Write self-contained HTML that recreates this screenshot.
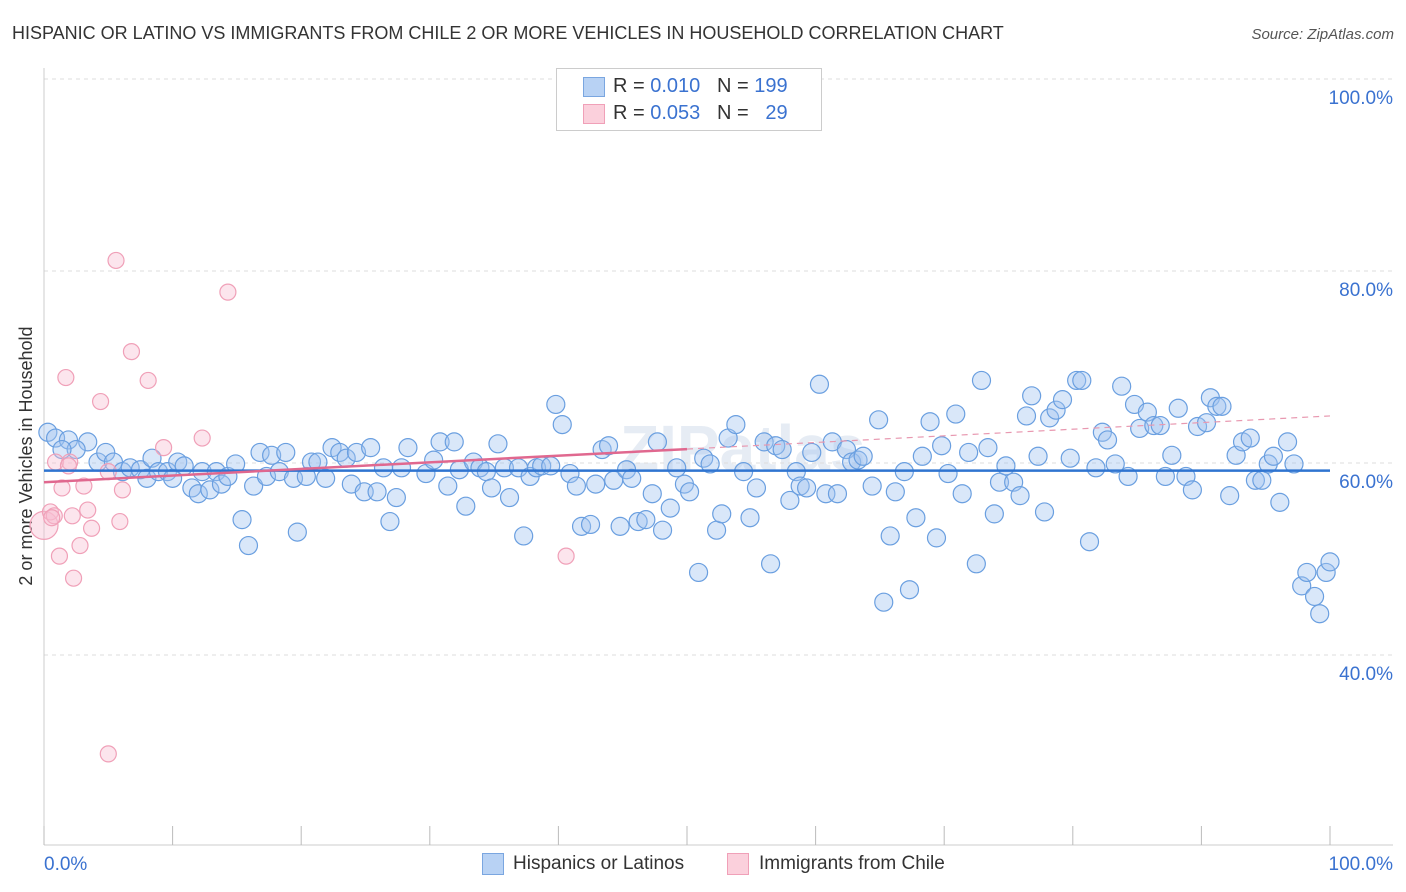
<!DOCTYPE html>
<html><head><meta charset="utf-8">
<style>
body{margin:0;background:#fff;font-family:"Liberation Sans",sans-serif;}
#wrap{position:relative;width:1406px;height:892px;overflow:hidden;}
</style></head>
<body>
<div id="wrap">
<svg id="svg" width="1406" height="892" xmlns="http://www.w3.org/2000/svg">
<text x="12" y="39" font-size="18" fill="#333">HISPANIC OR LATINO VS IMMIGRANTS FROM CHILE 2 OR MORE VEHICLES IN HOUSEHOLD CORRELATION CHART</text>
<text x="1394" y="39" font-size="15" fill="#555" text-anchor="end" font-style="italic">Source: ZipAtlas.com</text>
<text x="32" y="456" font-size="18" fill="#333" text-anchor="middle" transform="rotate(-90 32 456)">2 or more Vehicles in Household</text>
<text x="620" y="470" font-size="64" fill="#e6ecf4" font-weight="bold">ZIPatlas</text>
<g id="grid"></g>
<g id="pts"></g>
<g id="lines"></g>
</svg>
<div style="position:absolute;left:556px;top:68px;width:264px;height:61px;border:1px solid #ccc;background:#fff;font-size:20px;">
 <div style="position:absolute;left:26px;top:8px;width:20px;height:18px;background:#b8d2f4;border:1px solid #7aa6e0;"></div>
 <div style="position:absolute;left:56px;top:6px;color:#333;white-space:pre">R = <span style="color:#3a72d0">0.010</span>   N = <span style="color:#3a72d0">199</span></div>
 <div style="position:absolute;left:26px;top:35px;width:20px;height:18px;background:#fbd0dc;border:1px solid #f0a0b8;"></div>
 <div style="position:absolute;left:56px;top:33px;color:#333;white-space:pre">R = <span style="color:#3a72d0">0.053</span>   N =   <span style="color:#3a72d0">29</span></div>
</div>
<div style="position:absolute;left:482px;top:853px;width:20px;height:20px;background:#b8d2f4;border:1px solid #7aa6e0;"></div>
<div style="position:absolute;left:513px;top:853px;font-size:19px;color:#333">Hispanics or Latinos</div>
<div style="position:absolute;left:727px;top:853px;width:20px;height:20px;background:#fbd0dc;border:1px solid #f0a0b8;"></div>
<div style="position:absolute;left:759px;top:853px;font-size:19px;color:#333">Immigrants from Chile</div>
</div>
<script>
const yTicks=[100,80,60,40];
const yTickLabels=["100.0%","80.0%","60.0%","40.0%"];
const xTicks=[0,10,20,30,40,50,60,70,80,90,100];
const blueX=[0.3,0.9,1.9,3.4,2.5,1.4,4.2,4.8,5.4,6.1,6.7,7.5,8.0,8.4,8.9,9.6,10.0,10.4,10.9,11.5,12.0,12.3,12.9,13.4,13.8,14.3,14.9,15.4,15.9,16.3,16.8,17.3,17.7,18.3,18.8,19.4,19.7,20.4,20.8,21.3,21.9,22.4,23.0,23.5,23.9,24.3,24.9,25.4,25.9,26.4,26.9,27.4,27.8,28.3,29.7,30.3,30.8,31.4,31.9,32.3,32.8,33.4,33.9,34.4,34.8,35.3,35.8,36.2,36.9,37.3,37.8,38.3,38.7,39.4,39.8,40.3,40.9,41.4,41.8,42.5,42.9,43.4,43.9,44.3,44.8,45.3,45.7,46.2,46.8,47.3,47.7,48.1,48.7,49.2,49.8,50.2,50.9,51.3,51.8,52.3,52.7,53.2,53.8,54.4,54.9,55.4,56.0,56.5,56.9,57.4,58.0,58.5,58.8,59.3,59.7,60.3,60.8,61.3,61.7,62.4,62.8,63.3,63.7,64.4,64.9,65.3,65.8,66.2,66.9,67.3,67.8,68.3,68.9,69.4,69.8,70.3,70.9,71.4,71.9,72.5,72.9,73.4,73.9,74.3,74.8,75.4,75.9,76.4,76.8,77.3,77.8,78.2,78.7,79.2,79.8,80.3,80.7,81.3,81.8,82.3,82.7,83.3,83.8,84.3,84.8,85.2,85.8,86.3,86.8,87.2,87.7,88.2,88.8,89.3,89.7,90.4,90.7,91.2,91.6,92.2,92.7,93.2,93.8,94.2,94.7,95.2,95.6,96.1,96.7,97.2,97.8,98.2,98.8,99.2,99.7,100];
const blueY=[63.2,62.6,62.4,62.2,61.4,61.4,60.1,61.1,60.1,59.1,59.5,59.3,58.4,60.5,59.1,59.1,58.4,60.1,59.7,57.4,56.8,59.1,57.2,59.1,57.8,58.6,59.9,54.1,51.4,57.6,61.1,58.6,60.8,59.1,61.1,58.4,52.8,58.6,60.1,60.1,58.4,61.6,61.1,60.5,57.8,61.1,57.0,61.6,57.0,59.5,53.9,56.4,59.5,61.6,58.9,60.3,62.2,57.6,62.2,59.3,55.5,60.1,59.5,59.1,57.4,62.0,59.5,56.4,59.5,52.4,58.6,59.5,59.7,59.7,66.1,64.0,58.9,57.6,53.4,53.6,57.8,61.4,61.8,58.2,53.4,59.3,58.4,53.9,54.1,56.8,62.2,53.0,55.3,59.5,57.8,57.0,48.6,60.5,59.9,53.0,54.7,62.6,64.0,59.1,54.3,57.4,62.2,49.5,61.8,61.4,56.1,59.1,57.6,57.4,61.1,68.2,56.8,62.2,56.8,61.4,60.1,60.3,60.7,57.6,64.5,45.5,52.4,57.0,59.1,46.8,54.3,60.7,64.3,52.2,61.8,58.9,65.1,56.8,61.1,49.5,68.6,61.6,54.7,58.0,59.7,58.0,56.6,64.9,67.0,60.7,54.9,64.7,65.5,66.6,60.5,68.6,68.6,51.8,59.5,63.2,62.4,59.9,68.0,58.6,66.1,63.6,65.3,63.9,63.9,58.6,60.8,65.7,58.6,57.2,63.8,64.2,66.8,65.9,65.9,56.6,60.8,62.2,62.6,58.2,58.2,59.9,60.7,55.9,62.2,59.9,47.2,48.6,46.1,44.3,48.6,49.7];
const pinkX=[0,0.5,0.8,0.9,1.2,1.4,1.7,2.0,2.2,2.3,2.8,3.1,3.4,3.7,4.4,5.0,5.6,5.9,6.1,5.0,6.8,8.1,9.3,12.3,14.3,40.6,1.9,0.6];
const pinkY=[53.5,54.9,54.5,60.1,50.3,57.4,68.9,60.1,54.5,48.0,51.4,57.6,55.1,53.2,66.4,59.1,81.1,53.9,57.2,29.7,71.6,68.6,61.6,62.6,77.8,50.3,59.7,54.3];
const blueTrend=[59.2,59.2];
const pinkTrend=[58.0,64.9];

const NS="http://www.w3.org/2000/svg";
const X=v=>44+v*12.86;
const Y=v=>79+(100-v)*9.6;
function mk(tag,attrs,parent){const e=document.createElementNS(NS,tag);for(const k in attrs)e.setAttribute(k,attrs[k]);parent.appendChild(e);return e;}
const grid=document.getElementById('grid'),pts=document.getElementById('pts'),lines=document.getElementById('lines'),svg=document.getElementById('svg');
yTicks.forEach((t,i)=>{
  const l=mk('line',{x1:44,x2:1393,y1:Y(t),y2:Y(t),stroke:'#ddd','stroke-dasharray':'4,4'},grid);
  
  
  const tx=mk('text',{x:1393,y:Y(t)+25,'font-size':19,fill:'#3a72d0','text-anchor':'end'},grid);
  tx.textContent=yTickLabels[i];
  
  
});
const ax=mk('line',{x1:44,x2:44,y1:68,y2:845,stroke:'#ccc'},grid);


const bx=mk('line',{x1:44,x2:1393,y1:845,y2:845,stroke:'#ccc'},grid);


xTicks.forEach(t=>{
  const l=mk('line',{x1:X(t),x2:X(t),y1:826,y2:845,stroke:'#bbb'},grid);
  
  
});
[[0,'0.0%','start',44],[100,'100.0%','end',1393]].forEach(a=>{
  const tx=mk('text',{x:a[3],y:870,'font-size':19,fill:'#3a72d0','text-anchor':a[2]},grid);
  tx.textContent=a[1];
  
  
});
blueX.forEach((x,i)=>{
  const c=mk('circle',{cx:X(x),cy:Y(blueY[i]),r:9,fill:'rgba(160,196,240,0.4)',stroke:'#6a9fe0','stroke-width':1.2},pts);
  
  
});
pinkX.forEach((x,i)=>{
  const c=mk('circle',{cx:X(x),cy:Y(pinkY[i]),r:i===0?14:8,fill:'rgba(248,190,210,0.4)',stroke:'#f0a0b8','stroke-width':1.2},pts);
  
  
});
const bl=mk('line',{x1:X(0),x2:X(100),y1:Y(blueTrend[0]),y2:Y(blueTrend[1]),stroke:'#2f74d0','stroke-width':2.5},lines);


const pm=pinkTrend[0]+(pinkTrend[1]-pinkTrend[0])*0.5;
const pl=mk('line',{x1:X(0),x2:X(50),y1:Y(pinkTrend[0]),y2:Y(pm),stroke:'#e0688f','stroke-width':2.5},lines);


const pd=mk('line',{x1:X(50),x2:X(100),y1:Y(pm),y2:Y(pinkTrend[1]),stroke:'#e898b0','stroke-width':1.2,'stroke-dasharray':'6,5'},lines);


</script>
</body></html>
